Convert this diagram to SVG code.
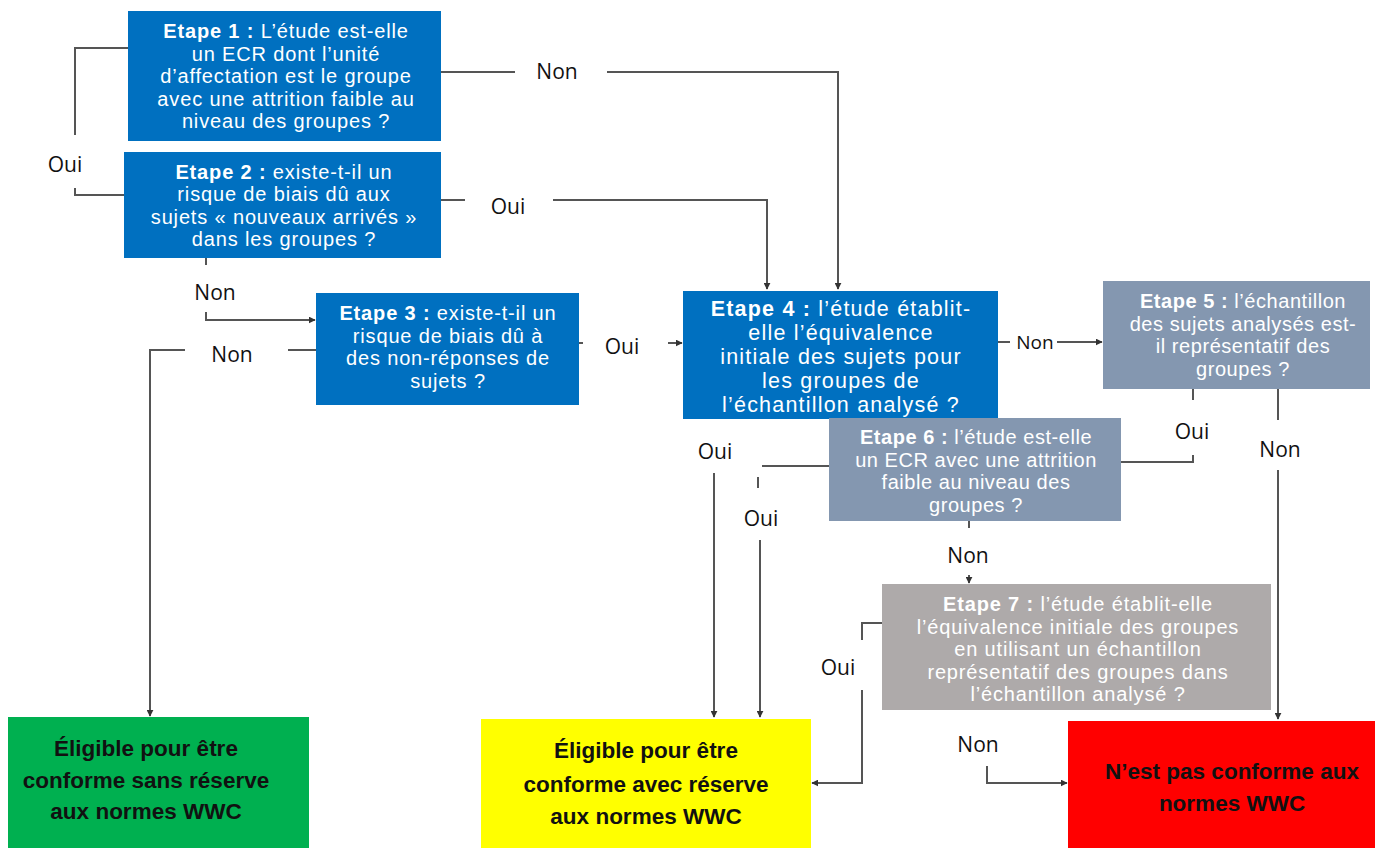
<svg xmlns="http://www.w3.org/2000/svg" width="1375" height="848" viewBox="0 0 1375 848">
<defs>
<marker id="ah" viewBox="0 0 10 10" refX="9" refY="5" markerWidth="7" markerHeight="7" orient="auto" markerUnits="userSpaceOnUse">
<path d="M0,0 L10,5 L0,10 z" fill="#333"/>
</marker>
<style>
.bx{font-family:"Liberation Sans",sans-serif;font-size:20px;letter-spacing:0.85px;fill:#fff;text-anchor:middle}
.bx4{font-size:21.5px;letter-spacing:1.2px}
.bx56{letter-spacing:0.55px}
.b{font-weight:bold}
.lbl{font-family:"Open Sans","Liberation Sans",sans-serif;font-size:21px;fill:#111;text-anchor:middle}
.res{font-family:"Liberation Sans",sans-serif;font-weight:bold;font-size:22.5px;fill:#111;text-anchor:middle}
.c{fill:none;stroke:#555;stroke-width:2}
.ca{fill:none;stroke:#555;stroke-width:2;marker-end:url(#ah)}
</style>
</defs>
<rect width="1375" height="848" fill="#fff"/>

<g id="connectors">
<path class="c" d="M128,48 H75 V135" stroke="#222"/>
<path class="c" d="M75,188 V195 H124"/>
<path class="c" d="M441,72 H515"/>
<path class="ca" d="M607,72 H838 V289"/>
<path class="c" d="M441,200 H465"/>
<path class="ca" d="M553,200 H767 V289"/>
<path class="c" d="M206,258 V265"/>
<path class="ca" d="M206,312 V320 H315"/>
<path class="c" d="M316,350 H288"/>
<path class="ca" d="M185,350 H150 V716"/>
<path class="c" d="M579,343 H583"/>
<path class="ca" d="M668,343 H682"/>
<path class="c" d="M998,342 H1010"/>
<path class="ca" d="M1057,342 H1102"/>
<path class="c" d="M1193,389 V400"/>
<path class="c" d="M1193,455 V462 H1121"/>
<path class="c" d="M1278,389 V420"/>
<path class="ca" d="M1278,470 V719"/>
<path class="c" d="M829,466 H762"/>
<path class="c" d="M758,477 V488"/>
<path class="ca" d="M760,540 V717"/>
<path class="ca" d="M714,473 V717"/>
<path class="c" d="M969,521 V528"/>
<path class="ca" d="M969,575 V583"/>
<path class="c" d="M882,623 H862 V640"/>
<path class="ca" d="M862,690 V783 H812"/>
<path class="ca" d="M987,766 V783 H1067"/>
</g>

<g id="labels">
<text class="lbl" x="557" y="79">Non</text>
<text class="lbl" x="65" y="172">Oui</text>
<text class="lbl" x="508" y="214">Oui</text>
<text class="lbl" x="215" y="300">Non</text>
<text class="lbl" x="232" y="362">Non</text>
<text class="lbl" x="622" y="354">Oui</text>
<text class="lbl" x="1035" y="349" style="font-size:19px">Non</text>
<text class="lbl" x="1192" y="439">Oui</text>
<text class="lbl" x="1280" y="457">Non</text>
<text class="lbl" x="715" y="459">Oui</text>
<text class="lbl" x="761" y="526">Oui</text>
<text class="lbl" x="968" y="563">Non</text>
<text class="lbl" x="838" y="675">Oui</text>
<text class="lbl" x="978" y="752">Non</text>
</g>

<g id="etape1">
<rect x="128" y="11" width="313" height="130" fill="#0070C0"/>
<text class="bx" x="286" y="38"><tspan class="b">Etape 1 :</tspan> L’étude est-elle</text>
<text class="bx" x="286" y="60.5">un ECR dont l’unité</text>
<text class="bx" x="286" y="83">d’affectation est le groupe</text>
<text class="bx" x="286" y="105.5">avec une attrition faible au</text>
<text class="bx" x="286" y="128">niveau des groupes ?</text>
</g>

<g id="etape2">
<rect x="124" y="152" width="317" height="106" fill="#0070C0"/>
<text class="bx" x="284" y="178.5"><tspan class="b">Etape 2 :</tspan> existe-t-il un</text>
<text class="bx" x="284" y="201">risque de biais dû aux</text>
<text class="bx" x="284" y="223.5">sujets « nouveaux arrivés »</text>
<text class="bx" x="284" y="246">dans les groupes ?</text>
</g>

<g id="etape3">
<rect x="316" y="293" width="263" height="112" fill="#0070C0"/>
<text class="bx" x="448" y="320"><tspan class="b">Etape 3 :</tspan> existe-t-il un</text>
<text class="bx" x="448" y="342.5">risque de biais dû à</text>
<text class="bx" x="448" y="365">des non-réponses de</text>
<text class="bx" x="448" y="387.5">sujets ?</text>
</g>

<g id="etape4">
<rect x="683" y="291" width="315" height="128" fill="#0070C0"/>
<text class="bx bx4" x="841" y="316"><tspan class="b">Etape 4 :</tspan> l’étude établit-</text>
<text class="bx bx4" x="841" y="340">elle l’équivalence</text>
<text class="bx bx4" x="841" y="364">initiale des sujets pour</text>
<text class="bx bx4" x="841" y="388">les groupes de</text>
<text class="bx bx4" x="841" y="412">l’échantillon analysé ?</text>
</g>

<g id="etape5">
<rect x="1103" y="281" width="267" height="108" fill="#8497B0"/>
<text class="bx bx56" x="1243" y="308"><tspan class="b">Etape 5 :</tspan> l’échantillon</text>
<text class="bx bx56" x="1243" y="330.5">des sujets analysés est-</text>
<text class="bx bx56" x="1243" y="353">il représentatif des</text>
<text class="bx bx56" x="1243" y="375.5">groupes ?</text>
</g>

<g id="etape6">
<rect x="829" y="418" width="292" height="103" fill="#8497B0"/>
<text class="bx bx56" x="976" y="444"><tspan class="b">Etape 6 :</tspan> l’étude est-elle</text>
<text class="bx bx56" x="976" y="466.5">un ECR avec une attrition</text>
<text class="bx bx56" x="976" y="489">faible au niveau des</text>
<text class="bx bx56" x="976" y="511.5">groupes ?</text>
</g>

<g id="etape7">
<rect x="882" y="584" width="389" height="126" fill="#AEAAAA"/>
<text class="bx" x="1078" y="611"><tspan class="b">Etape 7 :</tspan> l’étude établit-elle</text>
<text class="bx" x="1078" y="633.5">l’équivalence initiale des groupes</text>
<text class="bx" x="1078" y="656">en utilisant un échantillon</text>
<text class="bx" x="1078" y="678.5">représentatif des groupes dans</text>
<text class="bx" x="1078" y="701">l’échantillon analysé ?</text>
</g>

<g id="conforme-sans-reserve">
<rect x="8" y="717" width="301" height="131" fill="#00B050"/>
<text class="res" x="146" y="756">Éligible pour être</text>
<text class="res" x="146" y="788">conforme sans réserve</text>
<text class="res" x="146" y="819">aux normes WWC</text>
</g>

<g id="conforme-avec-reserve">
<rect x="481" y="719" width="330" height="129" fill="#FFFF00"/>
<text class="res" x="646" y="758">Éligible pour être</text>
<text class="res" x="646" y="792">conforme avec réserve</text>
<text class="res" x="646" y="824">aux normes WWC</text>
</g>

<g id="non-conforme">
<rect x="1068" y="721" width="307" height="127" fill="#FF0000"/>
<text class="res" x="1232" y="779">N’est pas conforme aux</text>
<text class="res" x="1232" y="811">normes WWC</text>
</g>
</svg>
